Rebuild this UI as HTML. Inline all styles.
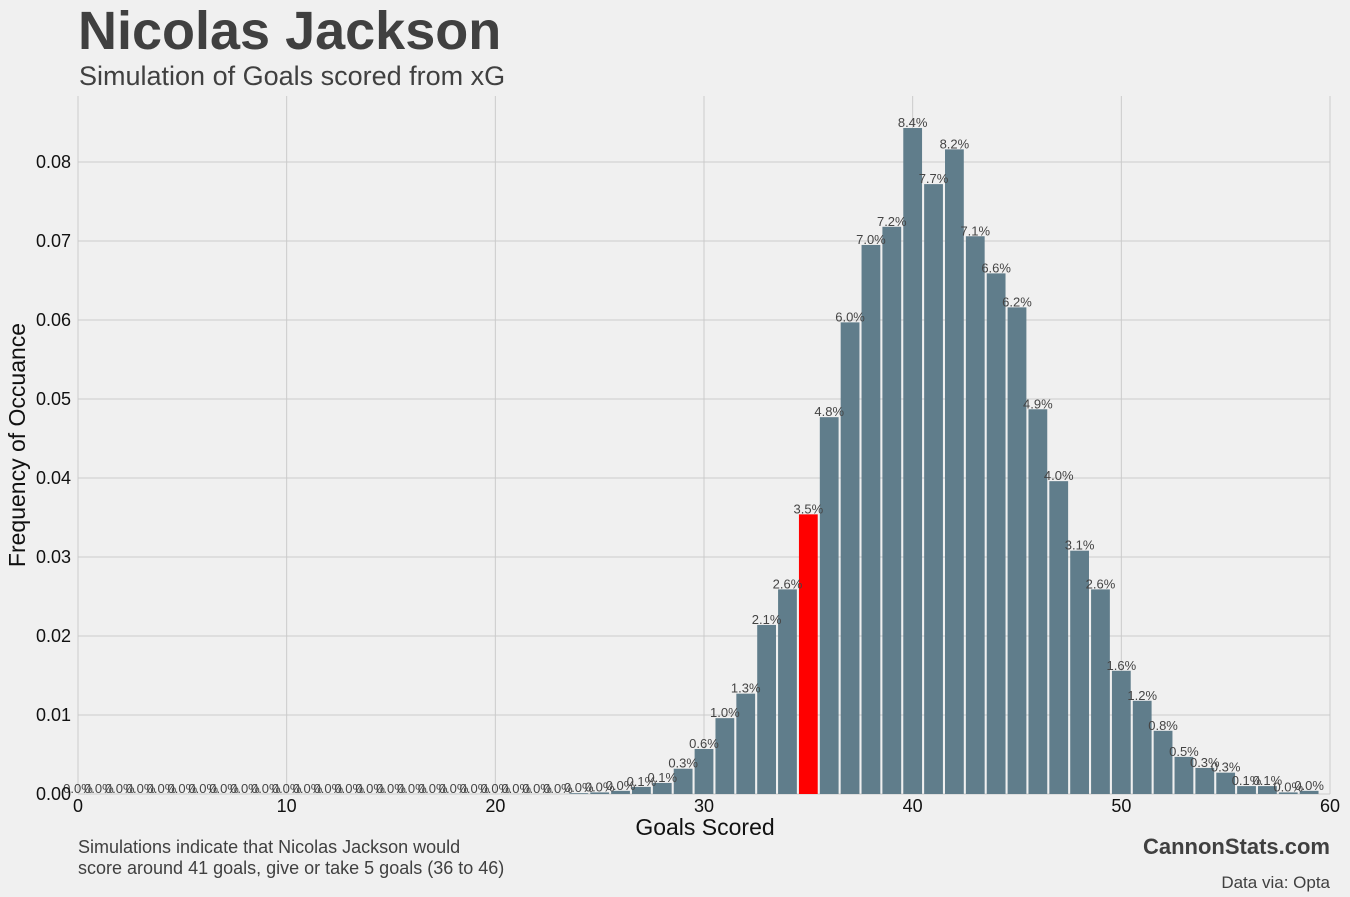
<!DOCTYPE html>
<html><head><meta charset="utf-8"><style>
body{margin:0;background:#f0f0f0;}
svg{display:block;font-family:"Liberation Sans Narrow","Liberation Sans",sans-serif;}
</style></head><body>
<svg id="chart" width="1350" height="897" viewBox="0 0 1350 897">
<rect width="1350" height="897" fill="#f0f0f0"/>
<text x="78" y="49" font-size="54" font-weight="bold" fill="#404040">Nicolas Jackson</text>
<text x="79" y="85" font-size="27" fill="#404040">Simulation of Goals scored from xG</text>
<g id="grid"></g>
<g id="bars"></g>
<g id="labels"></g>
<g id="ticks"></g>
<text x="705" y="835" font-size="23" text-anchor="middle" fill="#111">Goals Scored</text>
<text transform="translate(25,445) rotate(-90)" font-size="23" text-anchor="middle" fill="#111">Frequency of Occuance</text>
<text x="78" y="853" font-size="18" fill="#404040">Simulations indicate that Nicolas Jackson would</text>
<text x="78" y="874" font-size="18" fill="#404040">score around 41 goals, give or take 5 goals (36 to 46)</text>
<text x="1330" y="854" font-size="22" font-weight="bold" text-anchor="end" fill="#404040">CannonStats.com</text>
<text x="1330" y="888" font-size="17" text-anchor="end" fill="#404040">Data via: Opta</text>
</svg>
<script>
const goals = [];
for (let g = 0; g < 60; g++) goals.push(g);
const freq = [0,0,0,0,0,0,0,0,0,0,0,0,0,0,0,0,0,0,0,0,0,0,0,0,
0.0001,0.0002,0.0004,0.0009,0.0014,0.0032,0.0057,0.0096,0.0127,0.0214,0.0259,0.0354,0.0477,0.0597,0.0695,0.0718,
0.0843,0.0772,0.0816,0.0706,0.0659,0.0616,0.0487,0.0396,0.0308,0.0259,0.0156,0.0118,0.0080,0.0047,0.0033,0.0027,0.0010,0.0010,0.0002,0.0004];
const highlightGoal = 35;
const xTicks = [0,10,20,30,40,50,60];
const yTicks = [0,0.01,0.02,0.03,0.04,0.05,0.06,0.07,0.08];
const yTickLabels = ["0.00","0.01","0.02","0.03","0.04","0.05","0.06","0.07","0.08"];

const NS = "http://www.w3.org/2000/svg";
const xS = v => 78 + v * (1330 - 78) / 60;
const yS = v => 794 - v * (794 - 162) / 0.08;
function mk(tag, attrs, parent){const e=document.createElementNS(NS,tag);for(const k in attrs)e.setAttribute(k,attrs[k]);parent.appendChild(e);return e;}
const grid=document.getElementById('grid'),bars=document.getElementById('bars'),labels=document.getElementById('labels'),ticks=document.getElementById('ticks');

xTicks.forEach(t=>{
  const l=mk('line',{x1:xS(t),x2:xS(t),y1:96,y2:794,stroke:'#cbcbcb','stroke-width':1},grid);
  
  
  const tx=mk('text',{x:xS(t),y:812,'font-size':18,'text-anchor':'middle',fill:'#111'},ticks);
  tx.textContent=t;
  
  
});
yTicks.forEach((t,i)=>{
  const l=mk('line',{x1:78,x2:1330,y1:yS(t),y2:yS(t),stroke:'#cbcbcb','stroke-width':1},grid);
  
  
  const tx=mk('text',{x:71,y:yS(t)+6,'font-size':18,'text-anchor':'end',fill:'#111'},ticks);
  tx.textContent=yTickLabels[i];
  
  
});
const bw = 0.9 * (1330-78)/60;
goals.forEach((g,i)=>{
  const v=freq[i];
  const r=mk('rect',{x:xS(g)-bw/2,y:yS(v),width:bw,height:Math.max(0,794-yS(v)),fill:g===highlightGoal?'#ff0000':'#607d8b'},bars);
  
  
  const tx=mk('text',{x:xS(g),y:yS(v)-1,'font-size':13,'text-anchor':'middle',fill:'#444'},labels);
  tx.textContent=(v*100).toFixed(1)+'%';
  
  
});
</script>
</body></html>
